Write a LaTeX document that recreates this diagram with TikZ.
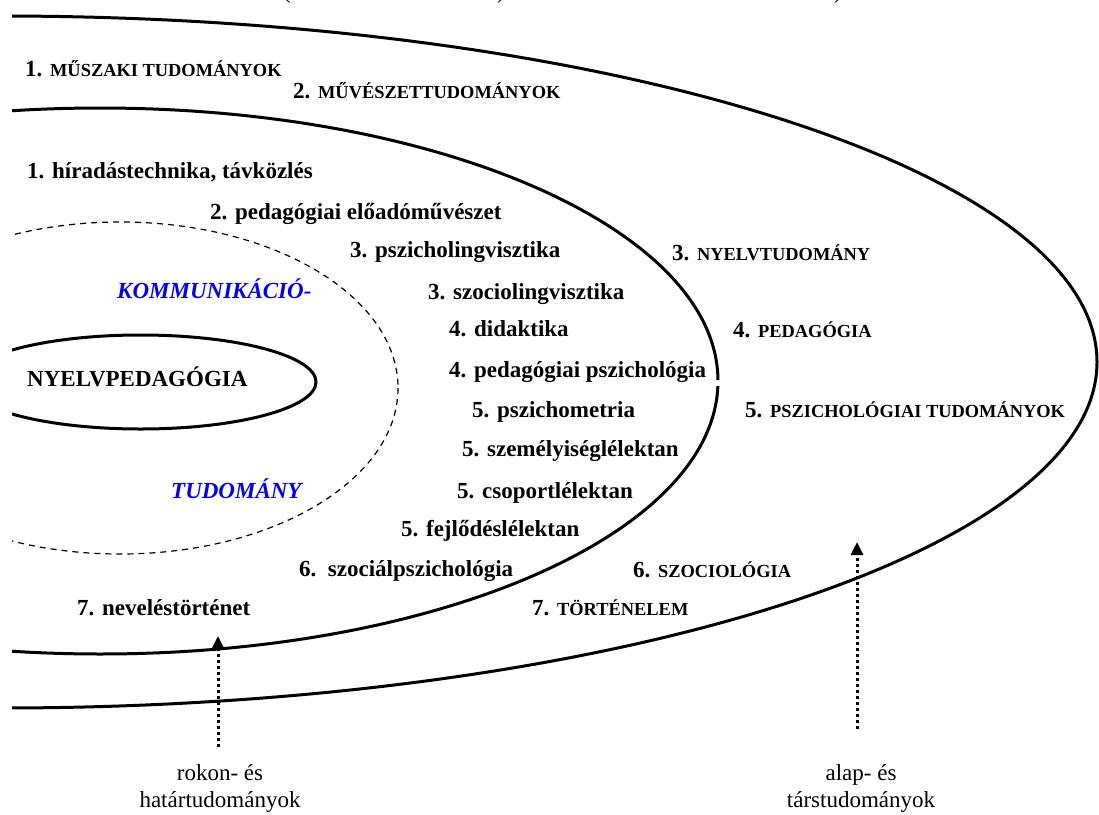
\documentclass[tikz,border=0pt]{standalone}
\usepackage{fontspec}
\setmainfont{Liberation Serif}
\usetikzlibrary{arrows.meta}
\definecolor{fieldblue}{RGB}{0,0,255}
% synthetic small capitals for the outer ring labels
\newcommand{\kisbetu}[1]{{\fontsize{18.4}{22}\selectfont #1}}
\begin{document}
\begin{tikzpicture}[x=1pt,y=-1pt,
  ring/.style={line width=3pt},
  dashring/.style={line width=1.2pt,dash pattern=on 6pt off 5pt},
  field/.style={font=\bfseries\fontsize{23}{27}\selectfont,anchor=base west,inner sep=0pt},
  commfield/.style={font=\bfseries\itshape\fontsize{23}{27}\selectfont,text=fieldblue,anchor=base west,inner sep=0pt},
  caption/.style={font=\fontsize{23}{27}\selectfont,align=center,inner sep=0pt},
  pointer/.style={line width=3pt,dash pattern=on 3pt off 3pt,-{Triangle[length=13pt,width=12pt]}}
]
\useasboundingbox (0,0) rectangle (1099,814);

% ellipses, cut off at the left margin
\begin{scope}
  \clip (12,0) rectangle (1099,814);
  \draw[ring] (0,362) ellipse [x radius=1097, y radius=346];
  \draw[ring] (100,381) ++(1.05:618 and 273)
    arc[start angle=1.05, end angle=359.8, x radius=618, y radius=273];
  \draw[dashring] (120,388) ellipse [x radius=278, y radius=166];
  \draw[ring] (140.6,382) ellipse [x radius=175.4, y radius=47];
\end{scope}

% remains of the heading line above
\begin{scope}
  \clip (0,0) rectangle (1099,20);
  \node[caption,anchor=base] (par1) at (287,-1.5) {(};
  \node[caption,anchor=base] (par2) at (501,-1.5) {)};
  \node[caption,anchor=base] (par3) at (838,-1.5) {)};
\end{scope}

% centre
\node[field] (core) at (27,386) {NYELVPEDAGÓGIA};
\node[commfield] (komm) at (117,298) {KOMMUNIKÁCIÓ-};
\node[commfield] (tud) at (171,498) {TUDOMÁNY};

% related and border fields
\node[field] (m1) at (27,178) {1. híradástechnika, távközlés};
\node[field] (m2) at (210,219) {2. pedagógiai előadóművészet};
\node[field] (m3a) at (350,257) {3. pszicholingvisztika};
\node[field] (m3b) at (428,299) {3. szociolingvisztika};
\node[field] (m4a) at (449,336) {4. didaktika};
\node[field] (m4b) at (449,377) {4. pedagógiai pszichológia};
\node[field] (m5a) at (472,417) {5. pszichometria};
\node[field] (m5b) at (462,456) {5. személyiséglélektan};
\node[field] (m5c) at (457,498) {5. csoportlélektan};
\node[field] (m5d) at (401,536) {5. fejlődéslélektan};
\node[field] (m6) at (299,576) {6.\ \ szociálpszichológia};
\node[field] (m7) at (77,615) {7. neveléstörténet};

% basic and partner sciences
\node[field] (o1) at (25,76) {1. \kisbetu{MŰSZAKI TUDOMÁNYOK}};
\node[field] (o2) at (293,98) {2. \kisbetu{MŰVÉSZETTUDOMÁNYOK}};
\node[field] (o3) at (672,260) {3. \kisbetu{NYELVTUDOMÁNY}};
\node[field] (o4) at (733,337) {4. \kisbetu{PEDAGÓGIA}};
\node[field] (o5) at (745,417) {5. \kisbetu{PSZICHOLÓGIAI TUDOMÁNYOK}};
\node[field] (o6) at (633,577) {6. \kisbetu{SZOCIOLÓGIA}};
\node[field] (o7) at (532,615) {7. \kisbetu{TÖRTÉNELEM}};

% pointers with captions
\coordinate (reltail) at (218,747);
\coordinate (reltip) at (218,636);
\coordinate (basetail) at (857,729);
\coordinate (basetip) at (857,542);
\draw[pointer] (reltail) -- (reltip);
\draw[pointer] (basetail) -- (basetip);
\node[caption] (relcap) at (220,788) {rokon- és\\határtudományok};
\node[caption] (basecap) at (861,788) {alap- és\\társtudományok};
\end{tikzpicture}
\end{document}
